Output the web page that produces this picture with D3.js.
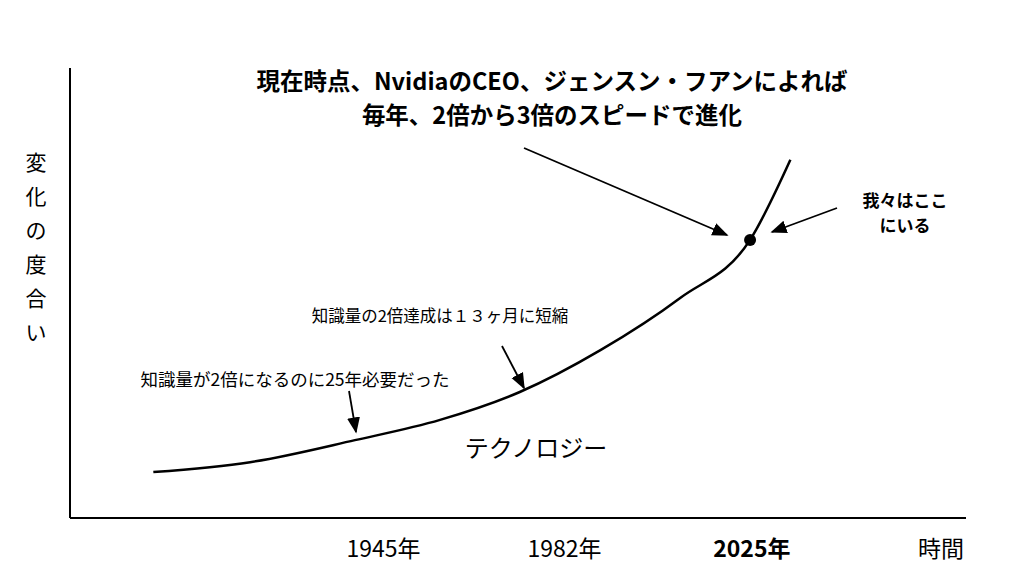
<!DOCTYPE html>
<html><head><meta charset="utf-8">
<script src="https://cdn.jsdelivr.net/npm/d3@7"></script>
<style>body{margin:0;background:#fff}svg{font-family:"Noto Sans CJK JP",sans-serif}</style>
</head><body><svg id="chart" width="1024" height="576"></svg>
<script>
// curve in abstract units (0..100)
var curveX = [9.3, 20.1, 31.8, 41.3, 50.2, 59.2, 68.1, 75.9, 80.4];
var curveY = [10.2, 12.4, 17.3, 21.8, 28, 37.3, 48.9, 61.8, 79.6];
var tickPos = [35, 55.2, 76.1, 97.2];
var tickLabels = ["1945年", "1982年", "2025年", "時間"];
var tickBold = [false, false, true, false];
var nowPoint = [75.9, 61.8];

var svg = d3.select("#chart");
var x = d3.scaleLinear().domain([0, 100]).range([70, 966]);
var y = d3.scaleLinear().domain([0, 100]).range([518, 68]);

svg.append("defs").append("marker").attr("id", "ah")
  .attr("viewBox", "0 0 10 10").attr("refX", 9).attr("refY", 5)
  .attr("markerWidth", 9).attr("markerHeight", 9).attr("orient", "auto-start-reverse")
  .append("path").attr("d", "M0,1L10,5L0,9z").attr("fill", "#000");

// axes
svg.append("line").attr("x1", x(0)).attr("x2", x(0)).attr("y1", y(100)).attr("y2", y(0)).attr("stroke", "#000").attr("stroke-width", 2);
svg.append("line").attr("x1", x(0)).attr("x2", x(100)).attr("y1", y(0)).attr("y2", y(0)).attr("stroke", "#000").attr("stroke-width", 2);

svg.selectAll(".tick").data(tickPos).enter().append("text")
  .attr("x", function(d){ return x(d); }).attr("y", 557)
  .attr("text-anchor", "middle").attr("font-size", 23)
  .attr("font-weight", function(d, i){ return tickBold[i] ? "bold" : "normal"; })
  .text(function(d, i){ return tickLabels[i]; });

// y label vertical
var ylab = "変化の度合い".split("");
svg.selectAll(".yl").data(ylab).enter().append("text")
  .attr("x", 36).attr("y", function(d, i){ return 170 + i * 34; })
  .attr("text-anchor", "middle").attr("font-size", 21).text(function(d){ return d; });

// curve
var pts = curveX.map(function(d, i){ return [d, curveY[i]]; });
svg.append("path").datum(pts)
  .attr("d", d3.line().x(function(d){ return x(d[0]); }).y(function(d){ return y(d[1]); }).curve(d3.curveMonotoneX))
  .attr("fill", "none").attr("stroke", "#000").attr("stroke-width", 2.5);

svg.append("circle").attr("cx", x(nowPoint[0])).attr("cy", y(nowPoint[1])).attr("r", 6).attr("fill", "#000");

// arrows
var arrows = [[524, 148, 727, 235], [837, 208, 772, 232], [502, 346, 524, 388], [349, 391, 356, 432]];
svg.selectAll(".ar").data(arrows).enter().append("line")
  .attr("x1", function(d){ return d[0]; }).attr("y1", function(d){ return d[1]; })
  .attr("x2", function(d){ return d[2]; }).attr("y2", function(d){ return d[3]; })
  .attr("stroke", "#000").attr("stroke-width", 1.8).attr("marker-end", "url(#ah)");

function label(tx, ty, s, size, weight){
  svg.append("text").attr("x", tx).attr("y", ty).attr("text-anchor", "middle")
    .attr("font-size", size).attr("font-weight", weight).text(s);
}
label(552, 90, "現在時点、NvidiaのCEO、ジェンスン・フアンによれば", 23.5, "bold");
label(552, 124, "毎年、2倍から3倍のスピードで進化", 23.5, "bold");
label(905, 207, "我々はここ", 17, "bold");
label(905, 232, "にいる", 17, "bold");
label(440, 322, "知識量の2倍達成は１３ヶ月に短縮", 16.5, "normal");
label(295, 386, "知識量が2倍になるのに25年必要だった", 17.5, "normal");
label(536, 457, "テクノロジー", 24, "normal");
</script></body></html>
